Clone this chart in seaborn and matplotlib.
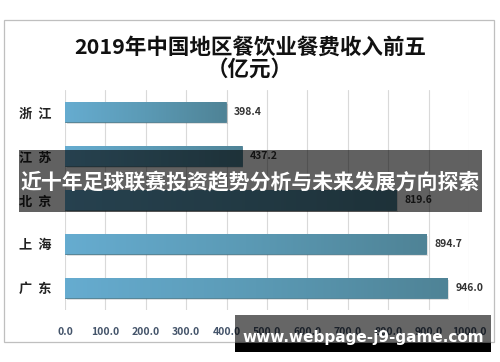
import numpy as np
import pandas as pd
import matplotlib
matplotlib.use("Agg")
import matplotlib.pyplot as plt
import seaborn as sns
from matplotlib.patches import Rectangle
from matplotlib.colors import LinearSegmentedColormap

regions = ["浙  江", "江  苏", "北  京", "上  海", "广  东"]
revenue = [398.4, 437.2, 819.6, 894.7, 946.0]
x_ticks = [0, 100, 200, 300, 400, 500, 600, 700, 800, 900, 1000]

title = "2019年中国地区餐饮业餐费收入前五\n（亿元）"
banner = "近十年足球联赛投资趋势分析与未来发展方向探索"
site = "www.webpage-j9-game.com"

sns.set_theme(style="white")
plt.rcParams["font.family"] = ["Noto Sans CJK SC", "DejaVu Sans"]

df = pd.DataFrame({"region": regions, "revenue": revenue})

fig = plt.figure(figsize=(5, 3.62), dpi=100)
fig.patch.set_facecolor("white")
ax = fig.add_axes([0.13, 0.144, 0.808, 0.607])

sns.barplot(data=df, y="region", x="revenue", orient="h", width=0.45,
            color="#5c9fbd", edgecolor="#4a7d91", linewidth=0.6, ax=ax, zorder=3)

# horizontal gradient inside each bar
grad = LinearSegmentedColormap.from_list("bar", ["#66acd0", "#5b9ab5", "#4f8396"])
for p in ax.patches:
    x0, y0 = p.get_x(), p.get_y()
    w, h = p.get_width(), p.get_height()
    im = ax.imshow(np.linspace(0, 1, 256).reshape(1, -1), cmap=grad, aspect="auto",
                   extent=[x0, x0 + w, y0 + h, y0], zorder=4)
    im.set_clip_path(p)
    ax.add_patch(Rectangle((x0 + 4, y0 + 0.04), w, h, facecolor="#000000",
                           alpha=0.12, edgecolor="none", zorder=2))

for i, v in enumerate(revenue):
    ax.text(v + 20, i, f"{v:.1f}", va="center", ha="left", fontsize=7.5,
            color="#333333", fontweight="bold", zorder=5)

ax.set_xlim(0, 1000)
ax.set_ylim(4.5, -0.5)
ax.set_xticks(x_ticks)
ax.set_xticklabels([f"{t:.1f}" for t in x_ticks], fontsize=7.5, color="#44546a",
                   fontweight="bold")
ax.tick_params(axis="x", length=0, pad=12)
ax.tick_params(axis="y", length=0, pad=10, labelsize=9.5)
for lab in ax.get_yticklabels():
    lab.set_fontweight("bold")
    lab.set_color("#222222")
ax.xaxis.grid(True, color="#d9d9d9", linewidth=0.8, zorder=0)
ax.set_axisbelow(True)
for s in ax.spines.values():
    s.set_visible(False)
ax.set_xlabel("")
ax.set_ylabel("")

fig.text(0.5, 0.84, title, ha="center", va="center", fontsize=15.5,
         fontweight="bold", color="#111111", linespacing=1.05)

# chart frame
fig.patches.append(Rectangle((0.008, 0.055), 0.98, 0.89, transform=fig.transFigure,
                             facecolor="none", edgecolor="#bfbfbf", linewidth=0.9))

# overlay banner
fig.patches.append(Rectangle((0.038, 0.414), 0.926, 0.171, transform=fig.transFigure,
                             facecolor="#000000", alpha=0.62, edgecolor="none", zorder=10))
fig.text(0.5, 0.495, banner, ha="center", va="center", fontsize=15,
         fontweight="bold", color="white", zorder=11)

# site watermark
fig.patches.append(Rectangle((0.47, 0.052), 0.512, 0.078, transform=fig.transFigure,
                             facecolor="#000000", alpha=0.6, edgecolor="none", zorder=10))
fig.patches.append(Rectangle((0.47, 0.028), 0.512, 0.025, transform=fig.transFigure,
                             facecolor="#000000", edgecolor="none", zorder=10))
fig.text(0.727, 0.069, site, ha="center", va="center", fontsize=11,
         fontweight="bold", color="white", family="DejaVu Sans", zorder=11)

fig.savefig("out.png", dpi=100)
